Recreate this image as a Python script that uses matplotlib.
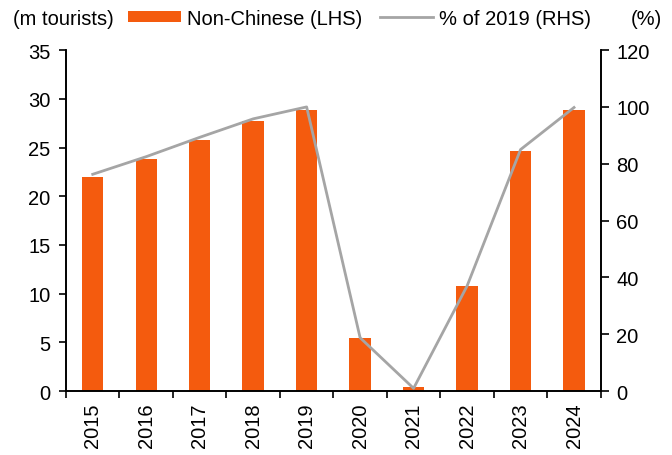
import numpy as np
import matplotlib.pyplot as plt

plt.rcParams["font.family"] = ["Liberation Sans", "DejaVu Sans"]

years = ["2015", "2016", "2017", "2018", "2019", "2020", "2021", "2022", "2023", "2024"]
non_chinese = [22.0, 23.8, 25.8, 27.7, 28.9, 5.5, 0.4, 10.8, 24.6, 28.8]
pct_of_2019 = [76.3, 82.5, 89.3, 95.8, 100.0, 18.8, 1.0, 37.0, 85.0, 99.8]

x = np.arange(len(years))
fs = 14.5

fig = plt.figure(figsize=(6.72, 4.56), dpi=100)
ax = fig.add_axes([0.0982, 0.140, 0.7958, 0.748])
ax2 = ax.twinx()

bars = ax.bar(x, non_chinese, width=0.4, color="#F45B0E", label="Non-Chinese (LHS)", zorder=2)
line, = ax2.plot(x, pct_of_2019, color="#A5A5A5", lw=2, label="% of 2019 (RHS)", zorder=3)

ax.set_xlim(-0.5, len(years) - 0.5)
ax.set_ylim(0, 35)
ax.set_yticks(range(0, 36, 5))
ax2.set_ylim(0, 120)
ax2.set_yticks(range(0, 121, 20))

# year labels at bar centres, tick marks between bars
ax.set_xticks(np.arange(-0.5, len(years)), minor=False)
ax.set_xticklabels([])
ax.set_xticks(x, minor=True)
ax.set_xticklabels(years, minor=True, rotation=90)
ax.tick_params(axis="x", which="major", direction="out", length=5, width=1.2)
ax.tick_params(axis="x", which="minor", length=0, pad=8, labelsize=fs)
ax.tick_params(axis="y", direction="out", length=5, width=1.2, labelsize=fs, pad=6)
ax2.tick_params(axis="y", direction="out", length=6, width=1.2, labelsize=fs, pad=5)

for a in (ax, ax2):
    a.spines["top"].set_visible(False)
    for s in ("left", "right", "bottom"):
        a.spines[s].set_linewidth(1.2)

ax.set_zorder(ax2.get_zorder() - 1)
ax2.patch.set_visible(False)

fig.text(0.02, 0.958, "(m tourists)", fontsize=fs, va="center", ha="left")
fig.text(0.985, 0.958, "(%)", fontsize=fs, va="center", ha="right")
fig.legend(handles=[bars, line], loc="center", bbox_to_anchor=(0.535, 0.958), ncol=2,
           frameon=False, fontsize=fs, handlelength=2.6, handleheight=0.5,
           handletextpad=0.3, columnspacing=0.9, borderaxespad=0)

fig.savefig("out.png", dpi=100)
